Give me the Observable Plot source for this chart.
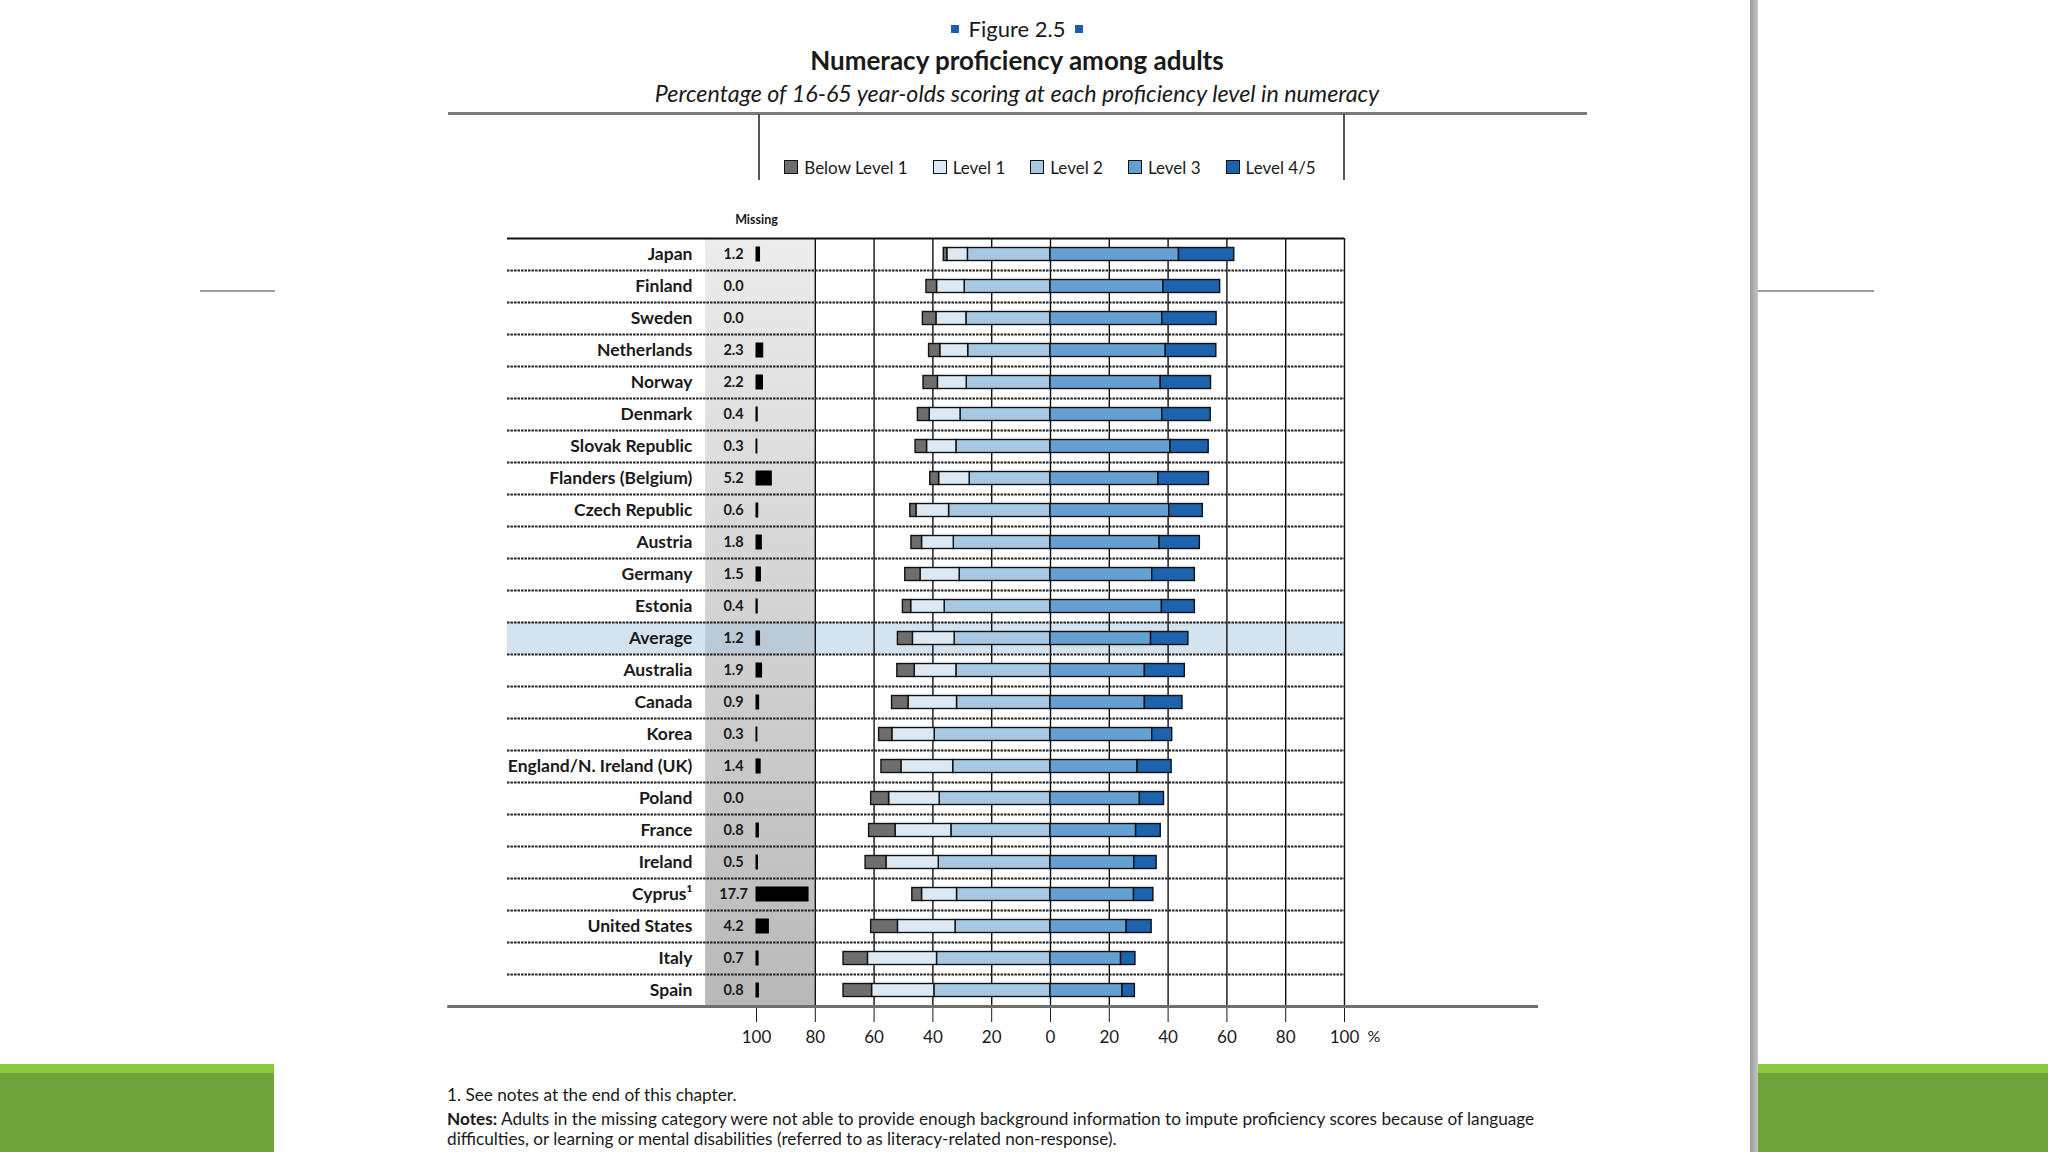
<!DOCTYPE html>
<html>
<head>
<meta charset="utf-8">
<script src="https://cdn.jsdelivr.net/npm/d3@7"></script>
<script src="https://cdn.jsdelivr.net/npm/@observablehq/plot@0.6"></script>
<style>
  html, body { margin: 0; padding: 0; background: #fff; }
  #page { position: relative; width: 2048px; height: 1152px; overflow: hidden; background: #fff;
          font-family: Lato, "Open Sans", sans-serif; color: #1a1a1a; }
  .abs { position: absolute; }
  .fig { left: 717px; width: 600px; top: 16px; line-height: 26px; font-size: 22px; text-align: center; }
  .fig .sq { display: inline-block; width: 8px; height: 8px; background: #1f5ea8; vertical-align: 4px; margin: 0 10px; }
  .title { left: 517px; width: 1000px; top: 45px; line-height: 30px; font-size: 26px; font-weight: 700; text-align: center; }
  .subtitle { left: 467px; width: 1100px; top: 79px; line-height: 28px; font-size: 23.3px; font-style: italic; text-align: center; }
  .hline { left: 448px; width: 1139px; top: 112px; height: 3px; background: #7a7a7a; }
  .vl { top: 114px; height: 66px; width: 2px; background: #555; }
  #legend { left: 550px; width: 1000px; top: 157px; height: 20px; display: flex; justify-content: center; align-items: center; gap: 25px; font-size: 17px; }
  #legend .item { display: flex; align-items: center; gap: 6px; }
  #legend .key { width: 12px; height: 12px; border: 1.5px solid #111; }
  #chart { left: 0; top: 206px; }
  .notes { left: 447px; font-size: 17.2px; line-height: 20px; white-space: nowrap; }
  .green { top: 1064px; height: 88px; background: linear-gradient(to bottom, #8dc63f 0, #8dc63f 9px, #6fa43a 9px, #6fa43a 100%); }
  .grayv { left: 1750px; top: 0; width: 8px; height: 1152px; background: linear-gradient(to right, #9a9a9a, #c6c6c6); }
  .sline { top: 290px; height: 2px; background: #9d9d9d; }
</style>
</head>
<body>
<div id="page">
  <div class="abs fig"><span class="sq"></span>Figure 2.5<span class="sq"></span></div>
  <div class="abs title">Numeracy proficiency among adults</div>
  <div class="abs subtitle">Percentage of 16-65 year-olds scoring at each proficiency level in numeracy</div>
  <div class="abs hline"></div>
  <div class="abs vl" style="left:758px"></div>
  <div class="abs vl" style="left:1343px"></div>
  <div class="abs" id="legend"></div>
  <div class="abs" id="chart"></div>
  <div class="abs notes" style="top:1085px">1. See notes at the end of this chapter.</div>
  <div class="abs notes" style="top:1109px"><b>Notes:</b> Adults in the missing category were not able to provide enough background information to impute proficiency scores because of language<br>difficulties, or learning or mental disabilities (referred to as literacy-related non-response).</div>
  <div class="abs sline" style="left:200px;width:75px"></div>
  <div class="abs sline" style="left:1758px;width:116px"></div>
  <div class="abs green" style="left:0;width:274px"></div>
  <div class="abs green" style="left:1758px;width:290px"></div>
  <div class="abs grayv"></div>
</div>
<script>
// ---------------- Data ----------------
const countries = ["Japan","Finland","Sweden","Netherlands","Norway","Denmark","Slovak Republic","Flanders (Belgium)","Czech Republic","Austria","Germany","Estonia","Average","Australia","Canada","Korea","England/N. Ireland (UK)","Poland","France","Ireland","Cyprus\u00B9","United States","Italy","Spain"];
const missing     = [1.2, 0.0, 0.0, 2.3, 2.2, 0.4, 0.3, 5.2, 0.6, 1.8, 1.5, 0.4, 1.2, 1.9, 0.9, 0.3, 1.4, 0.0, 0.8, 0.5, 17.7, 4.2, 0.7, 0.8];
const belowLevel1 = [1.2, 3.6, 4.6, 3.8, 4.9, 4.0, 3.9, 3.0, 2.1, 3.6, 5.2, 2.8, 5.1, 5.9, 5.6, 4.5, 6.8, 6.1, 9.0, 7.1, 3.3, 9.1, 8.3, 9.7];
const level1      = [7.0, 9.4, 10.2, 9.5, 9.8, 10.5, 10.0, 10.4, 11.1, 10.8, 13.3, 11.4, 14.2, 14.2, 16.5, 14.4, 17.6, 17.2, 19.0, 17.8, 11.9, 19.6, 23.5, 21.2];
const level2      = [28.1, 29.2, 28.6, 28.0, 28.5, 30.6, 32.0, 27.5, 34.5, 32.9, 30.9, 36.0, 32.6, 32.0, 31.8, 39.4, 33.1, 37.7, 33.7, 38.0, 31.8, 32.3, 38.6, 39.5];
const level3      = [43.7, 38.4, 38.0, 39.2, 37.5, 38.0, 40.8, 36.7, 40.4, 37.1, 34.6, 37.9, 34.2, 32.1, 32.1, 34.6, 29.6, 30.4, 29.1, 28.5, 28.4, 25.9, 24.0, 24.5];
const level45     = [18.8, 19.3, 18.5, 17.2, 17.1, 16.5, 13.0, 17.2, 11.4, 13.7, 14.5, 11.2, 12.7, 13.6, 12.8, 6.8, 11.6, 8.2, 8.4, 7.6, 6.6, 8.5, 4.9, 4.2];
const levelNames  = ["Below Level 1", "Level 1", "Level 2", "Level 3", "Level 4/5"];
const levelColors = ["#6e6e6e", "#dce8f2", "#a8c8e2", "#64a0d2", "#1c62ac"];
const xTicks = [-100, -80, -60, -40, -20, 0, 20, 40, 60, 80, 100];
const highlighted = "Average";

// ---------------- Layout (in x-scale units) ----------------
const L = { labelX: -121.8, valueX: -107.8, bandX1: -117.3, bandX2: -80, tableX1: -184.7, baseX1: -205, baseX2: 166, pctX: 110 };

// ---------------- Derived tables ----------------
const rows = countries.map((c, i) => ({ country: c, row: i, missing: missing[i] }));
const segs = [];
countries.forEach((c, i) => {
  let a = 0;
  [[2, level2[i]], [1, level1[i]], [0, belowLevel1[i]]].forEach(([k, v]) => {
    segs.push({ row: i, level: levelNames[k], x1: -a, x2: -(a + v) }); a += v;
  });
  a = 0;
  [[3, level3[i]], [4, level45[i]]].forEach(([k, v]) => {
    segs.push({ row: i, level: levelNames[k], x1: a, x2: a + v }); a += v;
  });
});

// ---------------- Legend ----------------
const legend = document.getElementById("legend");
levelNames.forEach((n, k) => {
  const it = document.createElement("div"); it.className = "item";
  const key = document.createElement("div"); key.className = "key"; key.style.background = levelColors[k];
  const t = document.createElement("span"); t.textContent = n;
  it.appendChild(key); it.appendChild(t); legend.appendChild(it);
});

// ---------------- Chart ----------------
const n = countries.length;
const chart = Plot.plot({
  width: 2048, height: 860,
  marginLeft: 756, marginRight: 704, marginTop: 32, marginBottom: 60,
  style: { background: "transparent", fontFamily: "Lato, 'Open Sans', sans-serif", fontSize: "17px", color: "#1a1a1a", overflow: "visible" },
  x: { domain: [-100, 100], ticks: xTicks, tickFormat: d => Math.abs(d), tickSize: 16, tickPadding: 8, label: null },
  y: { domain: [n, 0], axis: null },
  color: { domain: levelNames, range: levelColors },
  marks: [
    Plot.rect([0], { x1: L.bandX1, x2: L.bandX2, y1: 0, y2: n, fill: "url(#missingBand)" }),
    Plot.rect(rows.filter(r => r.country === highlighted), { x1: L.tableX1, x2: 100, y1: "row", y2: r => r.row + 1, fill: "#9ec0dd", fillOpacity: 0.45 }),
    Plot.ruleX(xTicks.slice(1), { stroke: "#111", strokeWidth: 1.4 }),
    Plot.ruleY(d3.range(1, n), { x1: L.tableX1, x2: 100, stroke: "#222", strokeWidth: 2, strokeDasharray: "2.5,1" }),
    Plot.ruleY([0], { x1: L.tableX1, x2: 100, stroke: "#111", strokeWidth: 2 }),
    Plot.ruleY([n], { x1: L.baseX1, x2: L.baseX2, stroke: "#6f6f6f", strokeWidth: 3 }),
    Plot.rect(segs, { x1: "x1", x2: "x2", y1: "row", y2: d => d.row + 1, insetTop: 9.5, insetBottom: 9.5, fill: "level", stroke: "#111", strokeWidth: 1.4 }),
    Plot.rect(rows.filter(r => r.missing > 0), { x1: -100, x2: r => -100 + r.missing, y1: "row", y2: r => r.row + 1, insetTop: 9, insetBottom: 9, fill: "#000", stroke: "#000", strokeWidth: 1 }),
    Plot.text(rows, { x: L.valueX, y: r => r.row + 0.5, text: r => r.missing.toFixed(1), fontWeight: "bold", fontSize: 14.5 }),
    Plot.text(rows, { x: L.labelX, y: r => r.row + 0.5, text: "country", textAnchor: "end", fontWeight: "bold", fontSize: 17.5 }),
    Plot.text(["Missing"], { x: -100, y: 0, dy: -19, text: d => d, fontWeight: "bold", fontSize: 12.5 }),
    Plot.text(["%"], { x: L.pctX, y: n, dy: 30, text: d => d, fontSize: 16 })
  ]
});
d3.select(chart).insert("defs", ":first-child").html(
  '<linearGradient id="missingBand" x1="0" y1="0" x2="0" y2="1"><stop offset="0" stop-color="#ececec"/><stop offset="1" stop-color="#b9b9b9"/></linearGradient>'
);
document.getElementById("chart").appendChild(chart);
</script>
</body>
</html>
